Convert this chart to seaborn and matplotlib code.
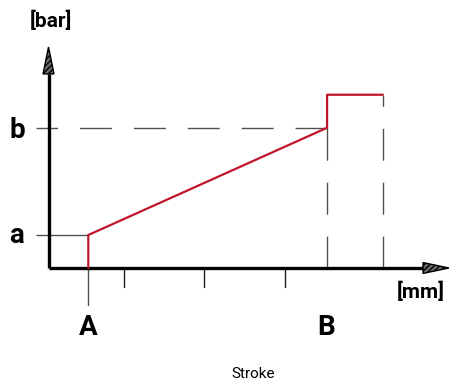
import matplotlib
matplotlib.use("Agg")
import matplotlib.pyplot as plt
from matplotlib.patches import Polygon
import seaborn as sns

# Stroke positions [mm]
stroke_A = 10.0
stroke_B = 70.0
stroke_end = 84.0
minor_ticks = [19.0, 39.0, 59.5]

# Pressure levels [bar]
p_a = 2.0
p_b = 8.5
p_top = 10.5

# Pressure profile over the stroke
profile_x = [stroke_A, stroke_A, stroke_B, stroke_B, stroke_end]
profile_y = [0.0, p_a, p_b, p_top, p_top]

point_labels = ["A", "B"]
level_labels = ["a", "b"]

sns.set_style("white")
plt.rcParams["font.family"] = ["Roboto", "DejaVu Sans"]
plt.rcParams["text.color"] = "black"
plt.rcParams["lines.scale_dashes"] = False

fig = plt.figure(figsize=(4.5, 3.85), dpi=100)
ax = fig.add_axes([0, 0, 1, 1])
ax.set_xlim(-12.19, 100.88)
ax.set_ylim(-7.091, 16.242)
ax.axis("off")

red = "#C0142C"
gray = "#505050"
dash = (0, (23.0, 15.8))

# guide lines for the pressure levels
x_left = -3.14
ax.plot([x_left, stroke_A], [p_a, p_a], color=gray, lw=1.0, solid_capstyle="butt")
ax.plot([stroke_B, x_left], [p_b, p_b], color=gray, lw=1.0, linestyle=dash)
ax.plot([stroke_B, stroke_B], [0, p_b], color=gray, lw=1.0, linestyle=dash)
ax.plot([stroke_end, stroke_end], [0, p_top], color=gray, lw=1.0, linestyle=dash)

# ticks below the stroke axis
ax.plot([stroke_A, stroke_A], [0, -2.24], color=gray, lw=1.0)
for t in minor_ticks:
    ax.plot([t, t], [0, -1.15], color="#202020", lw=1.0)

# axes with hatched arrow heads
y_base, y_tip = 11.76, 13.39
x_base, x_tip = 94.1, 100.6
ax.plot([0, 0], [0, y_base], color="black", lw=2.4, solid_capstyle="butt")
ax.plot([0, x_base], [0, 0], color="black", lw=2.4, solid_capstyle="butt")
ax.add_patch(Polygon([[-1.38, y_base], [1.38, y_base], [0, y_tip]], closed=True,
                     facecolor="#6a6a6a", edgecolor="black", hatch="//////", lw=1.0))
ax.add_patch(Polygon([[x_base, -0.33], [x_base, 0.33], [x_tip, 0]], closed=True,
                     facecolor="#6a6a6a", edgecolor="black", hatch="//////", lw=1.0))

# pressure profile
sns.lineplot(x=profile_x, y=profile_y, sort=False, estimator=None, color=red,
             lw=1.6, ax=ax)

big = dict(fontsize=20, fontweight="bold", ha="center", va="baseline",
           textcoords="offset points")
ax.annotate(level_labels[0], xy=(x_left, p_a), xytext=(-14.4, -5.8), **big)
ax.annotate(level_labels[1], xy=(x_left, p_b), xytext=(-13.7, -7.2), **big)
ax.annotate(point_labels[0], xy=(stroke_A, 0), xytext=(0, -48.2), **big)
ax.annotate(point_labels[1], xy=(stroke_B, 0), xytext=(-1.0, -48.2), **big)

unit = dict(fontsize=15, fontweight="bold", ha="center", va="baseline",
            textcoords="offset points")
ax.annotate("[bar]", xy=(0, y_tip), xytext=(1.8, 14.4), **unit)
ax.annotate("[mm]", xy=(x_tip, 0), xytext=(-20.0, -21.6), **unit)

fig.text(253 / 450, 1 - 378 / 385, "Stroke", fontsize=11, ha="center", va="baseline")

fig.savefig("out.png", dpi=100)
